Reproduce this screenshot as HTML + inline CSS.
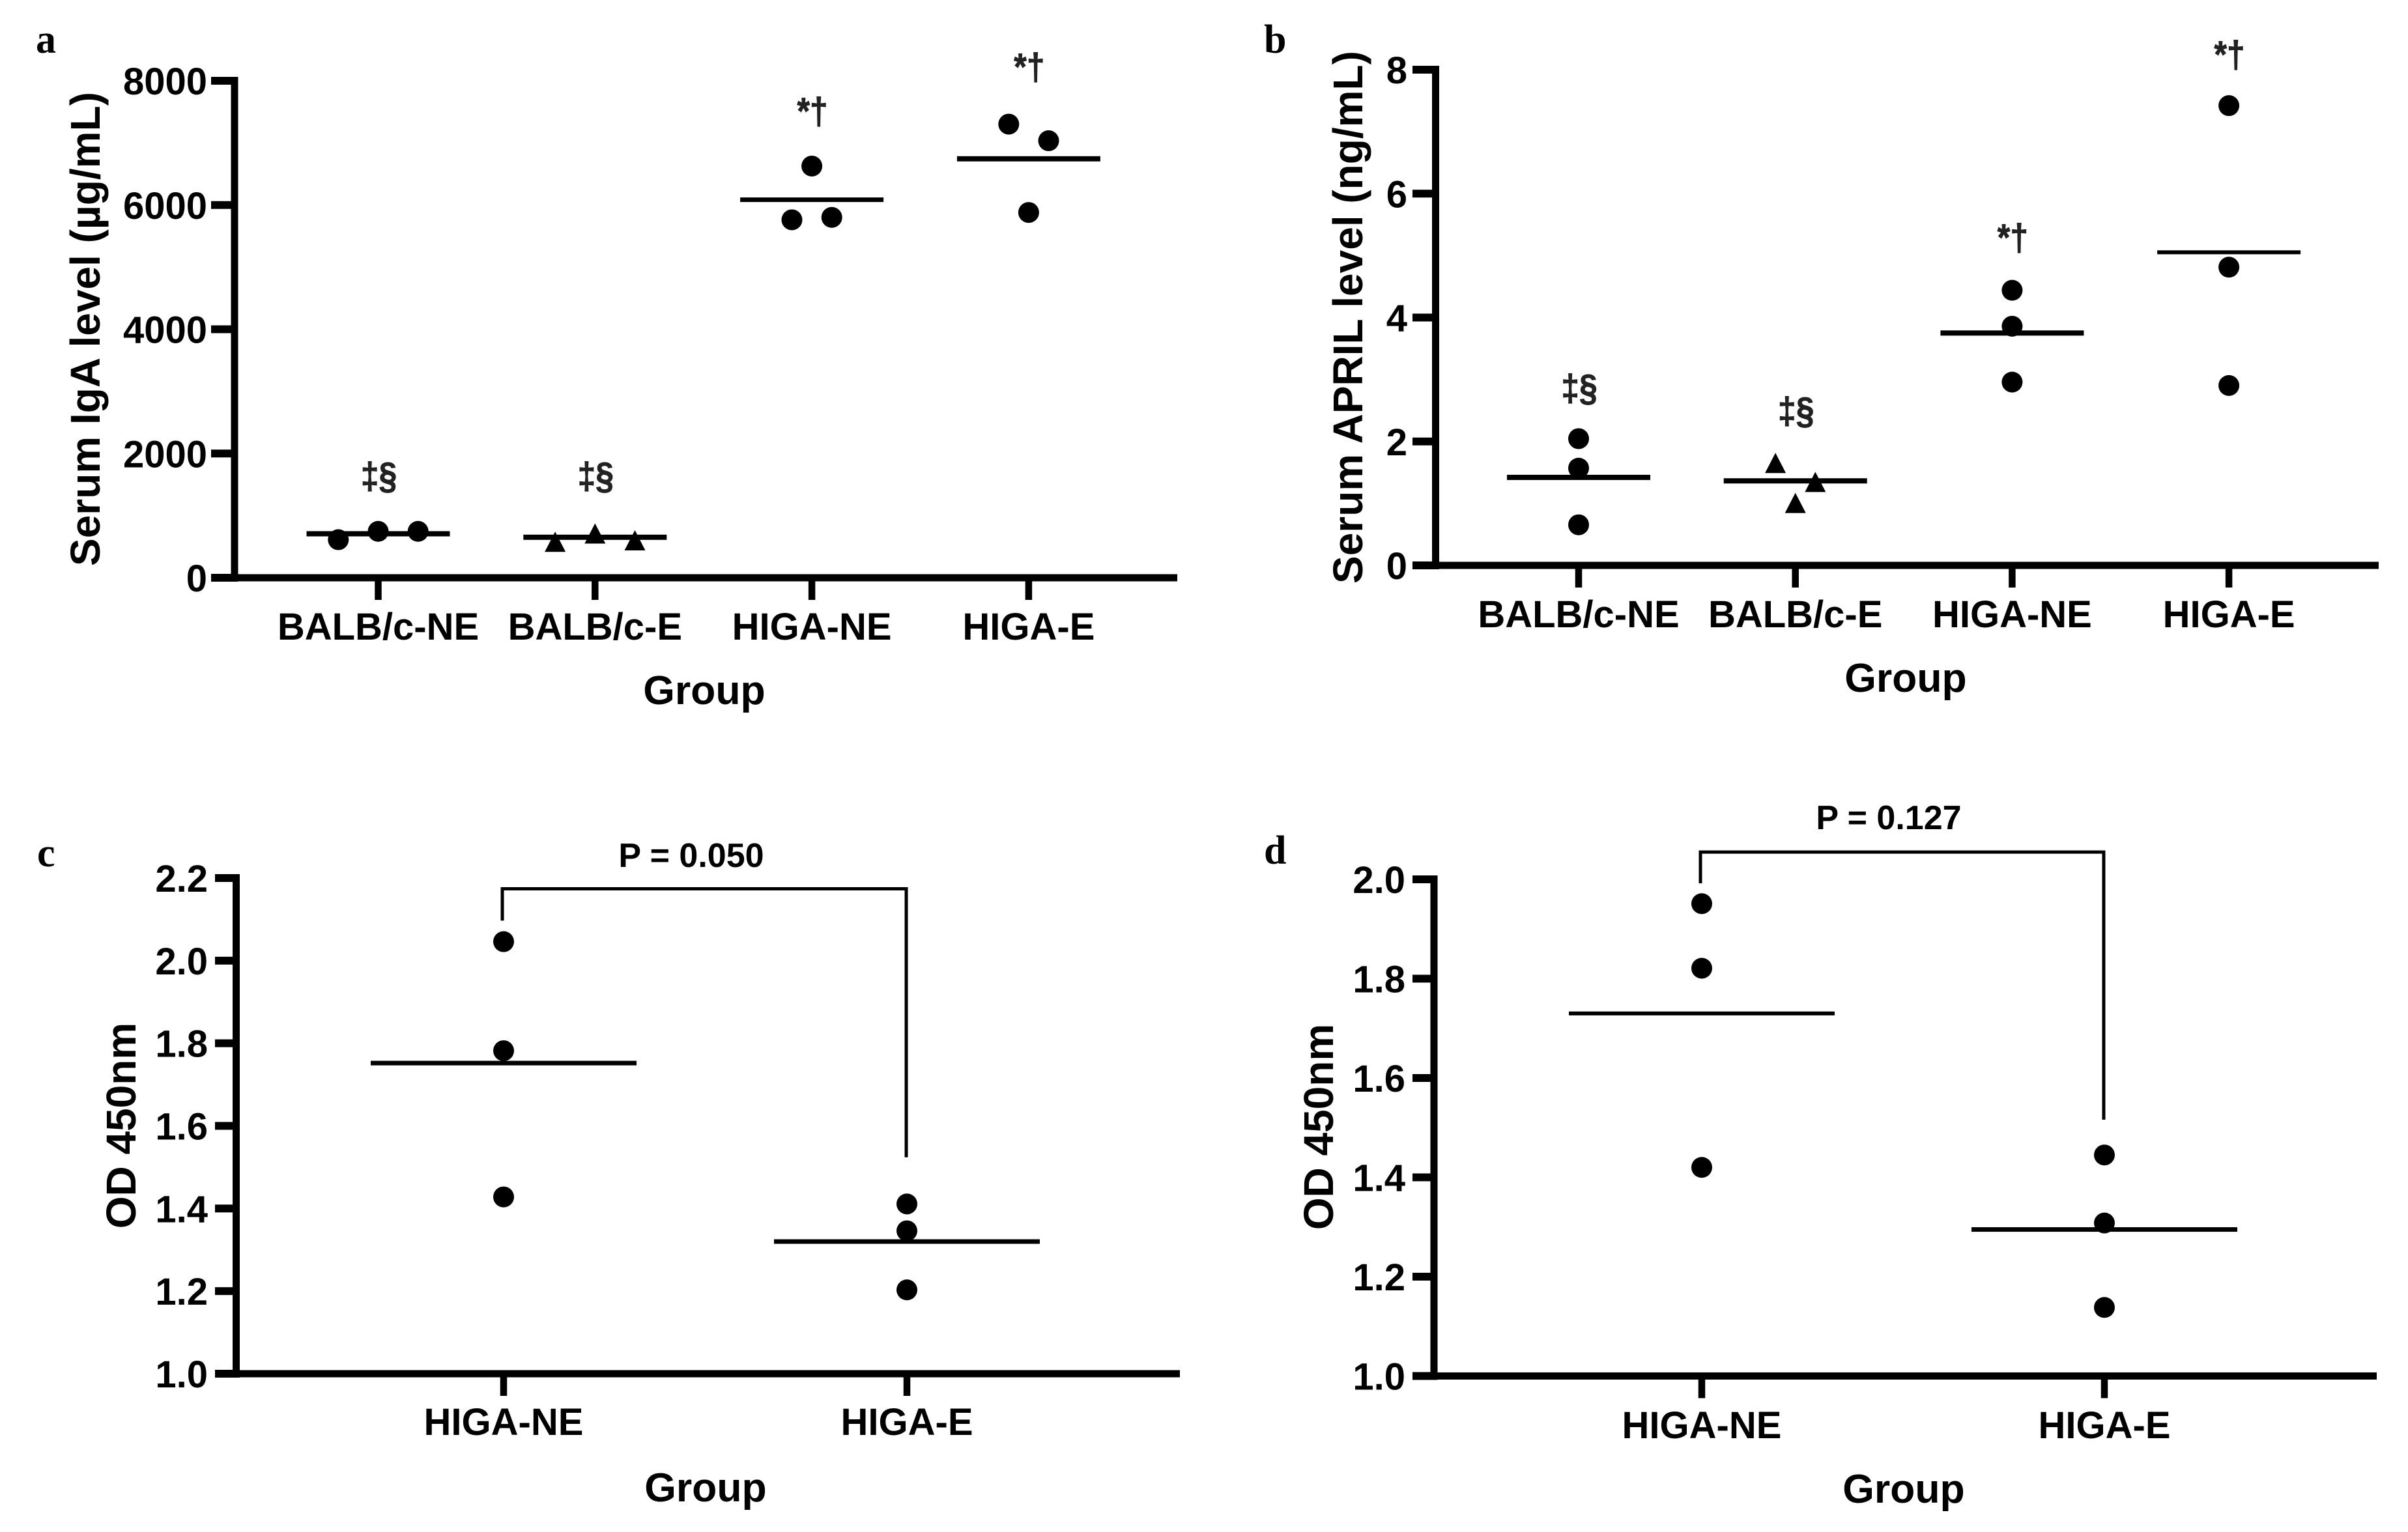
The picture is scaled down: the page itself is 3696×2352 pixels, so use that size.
<!DOCTYPE html>
<html lang="en">
<head>
<meta charset="utf-8">
<title>Serum IgA, APRIL and OD 450nm by group</title>
<style>
html,body{margin:0;padding:0;background:#fff;}
body{width:3696px;height:2352px;overflow:hidden;}
svg{display:block;}
text{font-family:"Liberation Sans",sans-serif;font-weight:700;fill:#000;}
.panel-letter{font-family:"Liberation Serif",serif;font-size:62px;}
.sig{font-size:50px;fill:#222;stroke:#222;stroke-width:0.8px;}
</style>
</head>
<body>
<svg id="figure" xmlns="http://www.w3.org/2000/svg" width="3696" height="2352" viewBox="0 0 3696 2352"></svg>
<script>
/* ---------- Panel a ---------- */
const aCategories = ['BALB/c-NE', 'BALB/c-E', 'HIGA-NE', 'HIGA-E'];
const aTickLabels = ['0', '2000', '4000', '6000', '8000'];
const aTickValues = [0, 2000, 4000, 6000, 8000];
const aMeans = [708, 652, 6085, 6744];
const aBalbNe = [613, 747, 747];
const aBalbE = [574, 708, 597];
const aHigaNe = [6627, 5762, 5801];
const aHigaE = [7302, 7035, 5880];
const aSlots = [[-2, 0, 2], [-2, 0, 2], [0, -1, 1], [-1, 1, 0]];
const aSigLabels = ['‡§', '‡§', '*†', '*†'];
const aSigLevels = [1436, 1436, 7308, 8021];

/* ---------- Panel b ---------- */
const bCategories = ['BALB/c-NE', 'BALB/c-E', 'HIGA-NE', 'HIGA-E'];
const bTickLabels = ['0', '2', '4', '6', '8'];
const bTickValues = [0, 2, 4, 6, 8];
const bMeans = [1.42, 1.364, 3.75, 5.053];
const bBalbNe = [2.045, 1.569, 0.655];
const bBalbE = [1.648, 1.341, 1.003];
const bHigaNe = [4.44, 3.86, 2.958];
const bHigaE = [7.42, 4.813, 2.903];
const bSlots = [[0, 0, 0], [-1, 1, 0], [0, 0, 0], [0, 0, 0]];
const bSigLabels = ['‡§', '‡§', '*†', '*†'];
const bSigLevels = [2.66, 2.29, 5.088, 8.04];

/* ---------- Panel c ---------- */
const cCategories = ['HIGA-NE', 'HIGA-E'];
const cTickLabels = ['1.0', '1.2', '1.4', '1.6', '1.8', '2.0', '2.2'];
const cTickValues = [1.0, 1.2, 1.4, 1.6, 1.8, 2.0, 2.2];
const cMeans = [1.752, 1.320];
const cHigaNe = [2.046, 1.782, 1.428];
const cHigaE = [1.411, 1.346, 1.203];
const cSlots = [[0, 0, 0], [0, 0, 0]];
const cBracketLevels = [2.174, 2.097, 1.524];

/* ---------- Panel d ---------- */
const dCategories = ['HIGA-NE', 'HIGA-E'];
const dTickLabels = ['1.0', '1.2', '1.4', '1.6', '1.8', '2.0'];
const dTickValues = [1.0, 1.2, 1.4, 1.6, 1.8, 2.0];
const dMeans = [1.730, 1.295];
const dHigaNe = [1.951, 1.821, 1.420];
const dHigaE = [1.445, 1.308, 1.138];
const dSlots = [[0, 0, 0], [0, 0, 0]];
const dBracketLevels = [2.055, 1.992, 1.516];

const panels = [
  { id: 'a', letterX: 55, letterY: 81, axisX: 360, axisY: 887, topY: 124, axisLeft: 324, axisRight: 1807,
    vMin: 0, vMax: 8000, firstX: 580.5, stepX: 332.8, halfMean: 110, meanW: [8, 8, 7, 8],
    categories: aCategories, tickValues: aTickValues, tickLabels: aTickLabels, means: aMeans,
    series: [aBalbNe, aBalbE, aHigaNe, aHigaE], slots: aSlots, triangleIndex: 1,
    sigLabels: aSigLabels, sigLevels: aSigLevels,
    yTitle: 'Serum IgA level (µg/mL)', yTitleX: 153, yTitleY: 505,
    tickRight: 318, xLabelY: 982, groupX: 1081, groupY: 1081 },
  { id: 'b', letterX: 1940, letterY: 81, axisX: 2203.5, axisY: 868, topY: 107, axisLeft: 2168, axisRight: 3651,
    vMin: 0, vMax: 8, firstX: 2423, stepX: 332.7, halfMean: 110, meanW: [8, 8, 8, 6],
    categories: bCategories, tickValues: bTickValues, tickLabels: bTickLabels, means: bMeans,
    series: [bBalbNe, bBalbE, bHigaNe, bHigaE], slots: bSlots, triangleIndex: 1,
    sigLabels: bSigLabels, sigLevels: bSigLevels,
    yTitle: 'Serum APRIL level (ng/mL)', yTitleX: 2091, yTitleY: 487,
    tickRight: 2160, xLabelY: 963, groupX: 2925, groupY: 1062 },
  { id: 'c', letterX: 57, letterY: 1330, axisX: 362.5, axisY: 2109, topY: 1348, axisLeft: 330, axisRight: 1811,
    vMin: 1.0, vMax: 2.2, firstX: 773, stepX: 619, halfMean: 204, meanW: [7, 7],
    categories: cCategories, tickValues: cTickValues, tickLabels: cTickLabels, means: cMeans,
    series: [cHigaNe, cHigaE], slots: cSlots, triangleIndex: -1,
    bracket: cBracketLevels, bracketText: 'P = 0.050', bracketTextX: 1061, bracketTextY: 1331,
    yTitle: 'OD 450nm', yTitleX: 208, yTitleY: 1728,
    tickRight: 319, xLabelY: 2203, groupX: 1083, groupY: 2305 },
  { id: 'd', letterX: 1940, letterY: 1326, axisX: 2201, axisY: 2112.5, topY: 1350, axisLeft: 2168, axisRight: 3648,
    vMin: 1.0, vMax: 2.0, firstX: 2612, stepX: 618, halfMean: 204, meanW: [6, 7],
    categories: dCategories, tickValues: dTickValues, tickLabels: dTickLabels, means: dMeans,
    series: [dHigaNe, dHigaE], slots: dSlots, triangleIndex: -1,
    bracket: dBracketLevels, bracketText: 'P = 0.127', bracketTextX: 2899, bracketTextY: 1273,
    yTitle: 'OD 450nm', yTitleX: 2046, yTitleY: 1730,
    tickRight: 2157, xLabelY: 2208, groupX: 2922, groupY: 2307 }
];

const SVG_NS = 'http://www.w3.org/2000/svg';
const SLOT_PX = 30.6;
const DOT_R = 16;
const root = document.getElementById('figure');

function make(parent, tag, props, content) {
  const node = document.createElementNS(SVG_NS, tag);
  for (const key in props) node.setAttribute(key, props[key]);
  if (content !== undefined) node.textContent = content;
  parent.appendChild(node);
  return node;
}

function yScaleFor(p) {
  return function (v) {
    return p.axisY - (v - p.vMin) / (p.vMax - p.vMin) * (p.axisY - p.topY);
  };
}
function xScaleFor(p) {
  return function (i) {
    return p.firstX + i * p.stepX;
  };
}

function drawPanel(p) {
  const y = yScaleFor(p);
  const x = xScaleFor(p);
  let el;

  const g = make(root, 'g', {});
  
  

  el = make(g, 'text', { class: 'panel-letter', x: p.letterX, y: p.letterY }, p.id);
  
  

  /* y axis */
  el = make(g, 'rect', { x: p.axisX - 5.5, y: p.topY - 6, width: 11, height: p.axisY - p.topY + 12, fill: '#000' });
  
  

  p.tickValues.forEach(function (v, i) {
    const tick = make(g, 'rect', { x: p.axisLeft, y: y(v) - 6, width: p.axisX - p.axisLeft, height: 12, fill: '#000' });
    
    
    const label = make(g, 'text', { x: p.tickRight, y: y(v) + 21, 'font-size': 58, 'text-anchor': 'end' }, p.tickLabels[i]);
    
    
  });

  /* x axis */
  el = make(g, 'rect', { x: p.axisLeft, y: p.axisY - 5.5, width: p.axisRight - p.axisLeft, height: 11, fill: '#000' });
  
  

  p.categories.forEach(function (name, i) {
    const tick = make(g, 'rect', { x: x(i) - 5.25, y: p.axisY, width: 10.5, height: 34, fill: '#000' });
    
    
    const label = make(g, 'text', { x: x(i), y: p.xLabelY, 'font-size': 58, 'text-anchor': 'middle' }, name);
    
    
  });

  /* axis titles */
  el = make(g, 'text', { x: p.groupX, y: p.groupY, 'font-size': 62.5, 'text-anchor': 'middle' }, 'Group');
  
  

  el = make(g, 'text', { x: 0, y: 0, 'font-size': 64, 'text-anchor': 'middle', transform: 'translate(' + p.yTitleX + ' ' + p.yTitleY + ') rotate(-90)' }, p.yTitle);
  
  

  /* means */
  p.means.forEach(function (m, i) {
    const line = make(g, 'rect', { x: x(i) - p.halfMean, y: y(m) - p.meanW[i] / 2, width: p.halfMean * 2, height: p.meanW[i], fill: '#000' });
    
    
  });

  /* points */
  p.series.forEach(function (vals, i) {
    vals.forEach(function (v, j) {
      const cx = x(i) + p.slots[i][j] * SLOT_PX;
      const cy = y(v);
      let mark;
      if (i === p.triangleIndex) {
        mark = make(g, 'polygon', { points: (cx - 16) + ',' + (cy + 15) + ' ' + (cx + 16) + ',' + (cy + 15) + ' ' + cx + ',' + (cy - 16), fill: '#000' });
      } else {
        mark = make(g, 'circle', { cx: cx, cy: cy, r: DOT_R, fill: '#000' });
      }
      
      
    });
  });

  /* significance symbols */
  if (p.sigLabels) {
    p.sigLabels.forEach(function (s, i) {
      const sig = make(g, 'text', { class: 'sig', x: 0, y: 0, 'text-anchor': 'middle', transform: 'translate(' + (x(i) + 1) + ' ' + y(p.sigLevels[i]) + ') scale(1 1.15)' }, s);
      
      
    });
  }

  /* bracket */
  if (p.bracket) {
    const xl = x(0) - 2, xr = x(1) - 1;
    const top = y(p.bracket[0]);
    const path = 'M' + xl + ' ' + y(p.bracket[1]) + 'V' + top + 'H' + xr + 'V' + y(p.bracket[2]);
    el = make(g, 'path', { d: path, fill: 'none', stroke: '#000', 'stroke-width': 5 });
    
    
    el = make(g, 'text', { x: p.bracketTextX, y: p.bracketTextY, 'font-size': 52, 'text-anchor': 'middle' }, p.bracketText);
    
    
  }
}

panels.forEach(drawPanel);
</script>
</body>
</html>
